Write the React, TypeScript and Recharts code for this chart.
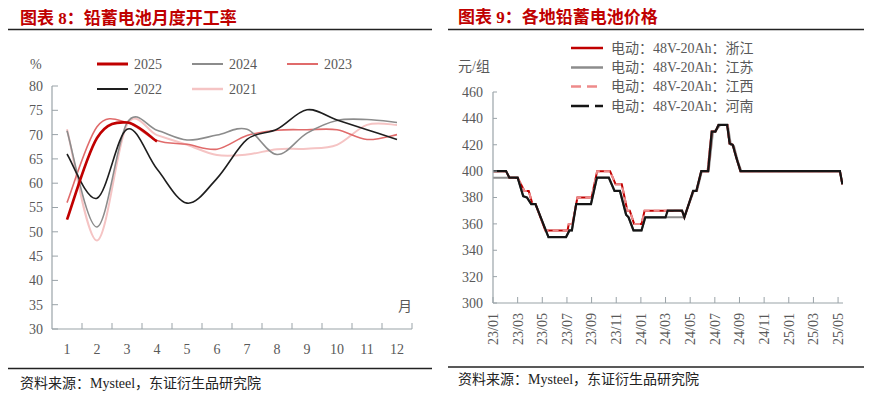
import { Line, LineChart, XAxis, YAxis } from "recharts";

const SERIF = "'Liberation Serif', 'Noto Sans CJK SC', serif";
const RED = "#C00000";
const AXIS = "#9AA3A8";
const TICK_TEXT = "#595959";

// 图表8 data: monthly operating rate (%)
const months = [1, 2, 3, 4, 5, 6, 7, 8, 9, 10, 11, 12];
const rate2025 = [52.5, 69.3, 72.5, 68.6];
const rate2024 = [70.8, 51, 72.4, 70.9, 68.9, 69.9, 71.1, 65.9, 70.3, 72.9, 73.1, 72.5];
const rate2023 = [56, 71.6, 72.5, 68.8, 68, 67, 69.8, 70.9, 71, 71, 69, 70];
const rate2022 = [66, 56.9, 71.1, 62.9, 55.9, 61, 69, 71.1, 75.1, 73, 71, 69];
const rate2021 = [71.1, 48.2, 72, 69.9, 67.9, 65.8, 65.9, 67, 67.1, 67.9, 72, 72];
const rateTicks = [30, 35, 40, 45, 50, 55, 60, 65, 70, 75, 80];

// 图表9 data: [months since 2023/01, price 元/组]
const zhejiang: [number, number][] = [
  [0, 400], [1.06, 400], [1.33, 395], [2.0, 395], [2.55, 385], [2.9, 385], [3.2, 375], [3.45, 375],
  [4.25, 355], [6.05, 355], [6.15, 360], [6.45, 360], [6.85, 380], [8.0, 380], [8.45, 400], [9.5, 400],
  [9.95, 390], [10.45, 390], [10.9, 370], [11.1, 370], [11.45, 360], [12.05, 360], [12.3, 370],
  [15.34, 370], [15.53, 365], [16.24, 385], [16.5, 385], [16.9, 400], [17.45, 400], [17.75, 430],
  [18.05, 430], [18.3, 435], [19.0, 435], [19.2, 421], [19.45, 420], [19.75, 410], [20.08, 400],
  [28.15, 400], [28.35, 390],
];
const jiangsu: [number, number][] = [
  [0, 395], [2.0, 395], [2.45, 381], [2.75, 380], [3.1, 375], [3.45, 375], [4.5, 350], [5.93, 350],
  [6.2, 355], [6.4, 355], [6.75, 375], [7.95, 375], [8.43, 395], [9.4, 395], [9.86, 385], [10.3, 385],
  [10.8, 367], [11.0, 365], [11.4, 355], [12.05, 355], [12.36, 365], [15.5, 365], [16.3, 385],
  [16.55, 385], [16.95, 400], [17.5, 400], [17.85, 430], [18.1, 431], [18.45, 435], [19.05, 435],
  [19.3, 420], [19.55, 419], [19.85, 408], [20.15, 400], [28.15, 400], [28.35, 390],
];
const jiangxi: [number, number][] = [
  [0, 400], [1.06, 400], [1.33, 395], [2.0, 395], [2.55, 385], [2.9, 385], [3.2, 375], [3.45, 375],
  [4.25, 355], [6.05, 355], [6.15, 360], [6.45, 360], [6.85, 380], [8.0, 380], [8.45, 400], [9.5, 400],
  [9.95, 390], [10.45, 390], [10.9, 370], [11.1, 370], [11.45, 360], [12.05, 360], [12.3, 370],
  [15.34, 370], [15.53, 365], [16.24, 385], [16.5, 385], [16.9, 400], [17.4, 400], [17.6, 420],
  [17.75, 430], [18.05, 430], [18.3, 435], [19.05, 435], [19.15, 421], [19.45, 420], [19.75, 410],
  [20.08, 400], [28.15, 400], [28.35, 390],
];
const henan: [number, number][] = [
  [0, 400], [1.06, 400], [1.33, 395], [2.0, 395], [2.45, 381], [2.75, 380], [3.1, 375], [3.45, 375],
  [4.5, 350], [5.93, 350], [6.2, 355], [6.4, 355], [6.75, 375], [7.95, 375], [8.43, 395], [9.4, 395],
  [9.86, 385], [10.3, 385], [10.8, 367], [11.0, 365], [11.4, 355], [12.05, 355], [12.36, 365],
  [14.0, 365], [14.17, 370], [15.34, 370], [15.53, 365], [16.24, 385], [16.5, 385], [16.9, 400],
  [17.45, 400], [17.75, 430], [18.05, 430], [18.3, 435], [19.0, 435], [19.2, 421], [19.45, 420],
  [19.75, 410], [20.08, 400], [28.15, 400], [28.35, 390],
];
const priceTicks = [300, 320, 340, 360, 380, 400, 420, 440, 460];
const dateTicks = [0, 2, 4, 6, 8, 10, 12, 14, 16, 18, 20, 22, 24, 26, 28];
const dateLabels = [
  "23/01", "23/03", "23/05", "23/07", "23/09", "23/11", "24/01", "24/03",
  "24/05", "24/07", "24/09", "24/11", "25/01", "25/03", "25/05",
];

// layout
const PANEL_W = 436;
const PANEL_H = 399;
const rateMargin = { top: 86, right: 24, bottom: 40, left: 4 };
const RATE_Y_W = 48;
const RATE_BAND = (PANEL_W - rateMargin.left - rateMargin.right - RATE_Y_W) / months.length;
const RATE_X_GAP = 15;
const RATE_Y_GAP = 9;
const PRICE_X_GAP = 10;
const PRICE_Y_GAP = 10;

// Excel-style smoothed line (Catmull-Rom through every point)
function excelSmooth(context: any) {
  let pts: [number, number][] = [];
  return {
    areaStart() {},
    areaEnd() {},
    lineStart() {
      pts = [];
    },
    lineEnd() {
      const n = pts.length;
      if (!n) return;
      context.moveTo(pts[0][0], pts[0][1]);
      for (let i = 0; i < n - 1; i++) {
        const p0 = pts[i - 1] ?? pts[i];
        const p1 = pts[i];
        const p2 = pts[i + 1];
        const p3 = pts[i + 2] ?? p2;
        context.bezierCurveTo(
          p1[0] + (p2[0] - p0[0]) / 6,
          p1[1] + (p2[1] - p0[1]) / 6,
          p2[0] - (p3[0] - p1[0]) / 6,
          p2[1] - (p3[1] - p1[1]) / 6,
          p2[0],
          p2[1]
        );
      }
    },
    point(x: number, y: number) {
      pts.push([+x, +y]);
    },
  };
}

const textProps = { fill: TICK_TEXT, fontSize: 14, fontFamily: SERIF };

// month label centred in its band, inward tick mark on the band edge
function MonthTick({ x, y, payload }: any) {
  const axisY = y - RATE_X_GAP;
  const edge = x + RATE_BAND / 2;
  return (
    <g>
      <line x1={edge} x2={edge} y1={axisY} y2={axisY - 6} stroke={AXIS} />
      <text x={x} y={y} dy="0.71em" textAnchor="middle" {...textProps}>
        {payload.value}
      </text>
    </g>
  );
}

function LeftValueTick({ x, y, payload, gap, size }: any) {
  const axisX = x + gap;
  return (
    <g>
      <line x1={axisX} x2={axisX + size} y1={y} y2={y} stroke={AXIS} />
      <text x={x} y={y} dy="0.35em" textAnchor="end" {...textProps}>
        {payload.value}
      </text>
    </g>
  );
}

function DateTick({ x, y, payload, index }: any) {
  const axisY = y - PRICE_X_GAP;
  return (
    <g>
      <line x1={x} x2={x} y1={axisY} y2={axisY - 6} stroke={AXIS} />
      <text
        x={x}
        y={y}
        transform={`rotate(-90 ${x} ${y})`}
        textAnchor="end"
        dy="0.35em"
        {...textProps}
      >
        {dateLabels[dateTicks.indexOf(payload.value)] ?? dateLabels[index]}
      </text>
    </g>
  );
}

function RateChart() {
  const rows = months.map((m, i) => ({
    m,
    r2025: rate2025[i] ?? null,
    r2024: rate2024[i],
    r2023: rate2023[i],
    r2022: rate2022[i],
    r2021: rate2021[i],
  }));
  const series = [
    { key: "r2021", color: "#F5C4C4", width: 2 },
    { key: "r2023", color: "#E06B6B", width: 1.6 },
    { key: "r2024", color: "#8C8C8C", width: 1.6 },
    { key: "r2022", color: "#1E1E1E", width: 1.6 },
    { key: "r2025", color: RED, width: 2.6 },
  ];
  return (
    <LineChart width={PANEL_W} height={PANEL_H} data={rows} margin={rateMargin}>
      <XAxis
        dataKey="m"
        type="number"
        domain={[0.5, 12.5]}
        ticks={months}
        height={30}
        tickLine={false}
        tickSize={0}
        tickMargin={RATE_X_GAP}
        axisLine={{ stroke: AXIS, strokeWidth: 1.2 }}
        tick={<MonthTick />}
        interval={0}
        allowDataOverflow
      />
      <YAxis
        type="number"
        domain={[30, 80]}
        ticks={rateTicks}
        width={RATE_Y_W}
        tickLine={false}
        tickSize={0}
        tickMargin={RATE_Y_GAP}
        axisLine={{ stroke: AXIS, strokeWidth: 1.2 }}
        tick={<LeftValueTick gap={RATE_Y_GAP} size={6} />}
        interval={0}
        allowDataOverflow
      />
      {series.map((s) => (
        <Line
          key={s.key}
          dataKey={s.key}
          type={excelSmooth as any}
          stroke={s.color}
          strokeWidth={s.width}
          dot={false}
          activeDot={false}
          isAnimationActive={false}
        />
      ))}
    </LineChart>
  );
}

function PriceChart() {
  const toRows = (pts: [number, number][]) => pts.map(([m, v]) => ({ m, v }));
  const series = [
    { name: "jiangsu", data: jiangsu, color: "#8C8C8C", width: 2, dash: undefined },
    { name: "zhejiang", data: zhejiang, color: RED, width: 2, dash: undefined },
    { name: "jiangxi", data: jiangxi, color: "#EE8A8A", width: 2, dash: "6 4" },
    { name: "henan", data: henan, color: "#151515", width: 2.2, dash: undefined },
  ];
  return (
    <LineChart width={PANEL_W} height={PANEL_H} margin={{ top: 92, right: 29, bottom: 46, left: 7 }}>
      <XAxis
        dataKey="m"
        type="number"
        domain={[0, 28.4]}
        ticks={dateTicks}
        height={50}
        tickLine={false}
        tickSize={0}
        tickMargin={PRICE_X_GAP}
        axisLine={{ stroke: AXIS, strokeWidth: 1.2 }}
        tick={<DateTick />}
        interval={0}
        allowDataOverflow
      />
      <YAxis
        type="number"
        domain={[300, 460]}
        ticks={priceTicks}
        width={50}
        tickLine={false}
        tickSize={0}
        tickMargin={PRICE_Y_GAP}
        axisLine={{ stroke: AXIS, strokeWidth: 1.2 }}
        tick={<LeftValueTick gap={PRICE_Y_GAP} size={4} />}
        interval={0}
        allowDataOverflow
      />
      {series.map((s) => (
        <Line
          key={s.name}
          data={toRows(s.data)}
          dataKey="v"
          type="linear"
          stroke={s.color}
          strokeWidth={s.width}
          strokeDasharray={s.dash}
          dot={false}
          activeDot={false}
          isAnimationActive={false}
        />
      ))}
    </LineChart>
  );
}

const rateLegend = [
  { label: "2025", color: RED, width: 3, x: 97, y: 64 },
  { label: "2024", color: "#8C8C8C", width: 2, x: 192, y: 64 },
  { label: "2023", color: "#E06B6B", width: 2, x: 287, y: 64 },
  { label: "2022", color: "#1E1E1E", width: 2, x: 97, y: 89 },
  { label: "2021", color: "#F5C4C4", width: 2.5, x: 192, y: 89 },
];

const priceLegend = [
  { label: "电动：48V-20Ah：浙江", color: RED, dash: undefined, y: 48 },
  { label: "电动：48V-20Ah：江苏", color: "#8C8C8C", dash: undefined, y: 67.5 },
  { label: "电动：48V-20Ah：江西", color: "#EE8A8A", dash: "10 6", y: 86.5 },
  { label: "电动：48V-20Ah：河南", color: "#151515", dash: "18 6", y: 106 },
];

function Annotations() {
  return (
    <svg
      width={872}
      height={399}
      style={{ position: "absolute", left: 0, top: 0, pointerEvents: "none" }}
      fontFamily={SERIF}
    >
      <text x={20} y={18} fontSize={17} fontWeight="bold" fill={RED} dominantBaseline="central">
        图表 8：铅蓄电池月度开工率
      </text>
      <text x={458} y={17} fontSize={17} fontWeight="bold" fill={RED} dominantBaseline="central">
        图表 9：各地铅蓄电池价格
      </text>
      <line x1={8} x2={432} y1={29.5} y2={29.5} stroke="#222" strokeWidth={1.4} />
      <line x1={448} x2={864} y1={29.5} y2={29.5} stroke="#222" strokeWidth={1.4} />
      <line x1={8} x2={432} y1={368.5} y2={368.5} stroke="#222" strokeWidth={1.4} />
      <line x1={448} x2={864} y1={367} y2={367} stroke="#222" strokeWidth={1.4} />

      <text x={30} y={64} fontSize={14} fill={TICK_TEXT} dominantBaseline="central">%</text>
      <text x={398} y={306} fontSize={14} fill={TICK_TEXT} dominantBaseline="central">月</text>
      <text x={458} y={66} fontSize={14} fill={TICK_TEXT} dominantBaseline="central">元/组</text>

      {rateLegend.map((l) => (
        <g key={l.label}>
          <line x1={l.x} x2={l.x + 31} y1={l.y} y2={l.y} stroke={l.color} strokeWidth={l.width} />
          <text x={l.x + 37} y={l.y} fontSize={14} fill={TICK_TEXT} dominantBaseline="central">
            {l.label}
          </text>
        </g>
      ))}
      {priceLegend.map((l) => (
        <g key={l.label}>
          <line x1={571} x2={603} y1={l.y} y2={l.y} stroke={l.color} strokeWidth={2.5} strokeDasharray={l.dash} />
          <text x={611} y={l.y} fontSize={14} fill={TICK_TEXT} dominantBaseline="central">
            {l.label}
          </text>
        </g>
      ))}

      <text x={20} y={383} fontSize={14} fill="#222" dominantBaseline="central">
        资料来源：Mysteel，东证衍生品研究院
      </text>
      <text x={458} y={379.5} fontSize={14} fill="#222" dominantBaseline="central">
        资料来源：Mysteel，东证衍生品研究院
      </text>
    </svg>
  );
}

export default function App() {
  return (
    <div style={{ position: "absolute", left: 0, top: 0, width: 872, height: 399, background: "#fff" }}>
      <div style={{ position: "absolute", left: 0, top: 0 }}>
        <RateChart />
      </div>
      <div style={{ position: "absolute", left: 436, top: 0 }}>
        <PriceChart />
      </div>
      <Annotations />
    </div>
  );
}
